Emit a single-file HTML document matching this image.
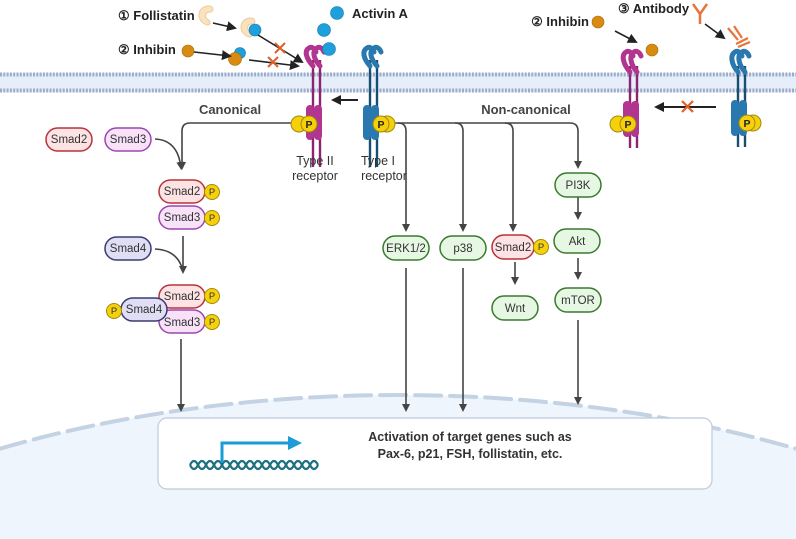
<!DOCTYPE html>
<html><head><meta charset="utf-8"><style>
html,body{margin:0;padding:0;width:796px;height:539px;overflow:hidden;background:#fff}
svg{display:block;font-family:"Liberation Sans",sans-serif;overflow:hidden}
.n{fill:#333;text-anchor:middle}
.b{font-weight:bold;fill:#222}
</style></head><body>
<svg width="796" height="539" viewBox="0 0 796 539" xmlns="http://www.w3.org/2000/svg">
<defs>
<marker id="a" markerWidth="8" markerHeight="8" refX="6" refY="4" orient="auto" markerUnits="userSpaceOnUse"><path d="M0,0 L8,4 L0,8z" fill="#444"/></marker>
<marker id="k" markerWidth="10" markerHeight="10" refX="8" refY="5" orient="auto" markerUnits="userSpaceOnUse"><path d="M0,0 L10,5 L0,10z" fill="#222"/></marker>
</defs>
<!-- nucleus -->
<path d="M0,448.7 A800,405 0 0 1 796,448.7 L796,539 L0,539 Z" fill="#eef5fd"/>
<path d="M0,448.7 A800,405 0 0 1 796,448.7" fill="none" stroke="#c3d3e3" stroke-width="4" stroke-dasharray="26,9" stroke-linecap="round"/>
<rect x="158" y="418" width="554" height="71" rx="9" fill="#fff" stroke="#bccbdb" stroke-width="1.2"/>
<text x="470" y="441" class="n b" style="font-size:12.5px;fill:#333">Activation of target genes such as</text>
<text x="470" y="458" class="n b" style="font-size:12.5px;fill:#333">Pax-6, p21, FSH, follistatin, etc.</text>
<path d="M190,465 q4,-8 8,0 t8,0 t8,0 t8,0 t8,0 t8,0 t8,0 t8,0 t8,0 t8,0 t8,0 t8,0 t8,0 t8,0 t8,0 t8,0" fill="none" stroke="#1d6f7f" stroke-width="2.2"/>
<path d="M190,465 q4,8 8,0 t8,0 t8,0 t8,0 t8,0 t8,0 t8,0 t8,0 t8,0 t8,0 t8,0 t8,0 t8,0 t8,0 t8,0 t8,0" fill="none" stroke="#1d6f7f" stroke-width="2.2"/>
<path d="M222,463 V443 H290" fill="none" stroke="#1b9bd7" stroke-width="3"/>
<path d="M288,436 L302,443 L288,450z" fill="#1b9bd7"/>
<!-- membrane -->
<rect x="0" y="73" width="796" height="19" fill="#e6eef9"/>
<line x1="0" y1="74.5" x2="796" y2="74.5" stroke="#9caccb" stroke-width="4" stroke-dasharray="2,1.3"/>
<line x1="0" y1="90.5" x2="796" y2="90.5" stroke="#9caccb" stroke-width="4" stroke-dasharray="2,1.3"/>
<!-- pathway lines -->
<g fill="none" stroke="#444" stroke-width="1.6">
<path d="M300,123 H190 Q182,123 182,131 V168" marker-end="url(#a)"/>
<path d="M390,123 H570 Q578,123 578,131 V167" marker-end="url(#a)"/>
<path d="M398,123 Q406,123 406,131 V230" marker-end="url(#a)"/>
<path d="M455,123 Q463,123 463,131 V230" marker-end="url(#a)"/>
<path d="M505,123 Q513,123 513,131 V230" marker-end="url(#a)"/>
<path d="M578,197 V218" marker-end="url(#a)"/>
<path d="M578,258 V278" marker-end="url(#a)"/>
<path d="M515,262 V283" marker-end="url(#a)"/>
<path d="M406,268 V410" marker-end="url(#a)"/>
<path d="M463,268 V410" marker-end="url(#a)"/>
<path d="M578,320 V403" marker-end="url(#a)"/>
<path d="M181,339 V410" marker-end="url(#a)"/>
<path d="M183,236 V272" marker-end="url(#a)"/>
<path d="M155,139 Q178,140 181,168" marker-end="url(#a)"/>
<path d="M155,249 Q178,250 183,271"/>
</g>
<!-- smads -->
<g stroke-width="1.5">
<rect x="46" y="128" width="46" height="23" rx="11.5" fill="#fde3e3" stroke="#b8323a"/>
<rect x="105" y="128" width="46" height="23" rx="11.5" fill="#f8e2f8" stroke="#9a47b0"/>
<rect x="159" y="180" width="46" height="23" rx="11.5" fill="#fde3e3" stroke="#b8323a"/>
<rect x="159" y="206" width="46" height="23" rx="11.5" fill="#f8e2f8" stroke="#9a47b0"/>
<rect x="105" y="237" width="46" height="23" rx="11.5" fill="#e0def5" stroke="#3b3a70"/>
<rect x="159" y="285" width="46" height="23" rx="11.5" fill="#fde3e3" stroke="#b8323a"/>
<rect x="159" y="310" width="46" height="23" rx="11.5" fill="#f8e2f8" stroke="#9a47b0"/>
<rect x="121" y="298" width="46" height="23" rx="11.5" fill="#e0def5" stroke="#3b3a70"/>
<rect x="383" y="236" width="46" height="24" rx="12" fill="#e6f7e3" stroke="#3a7a2e"/>
<rect x="440" y="236" width="46" height="24" rx="12" fill="#e6f7e3" stroke="#3a7a2e"/>
<rect x="492" y="235" width="42" height="24" rx="12" fill="#fde3e3" stroke="#b8323a"/>
<rect x="492" y="296" width="46" height="24" rx="12" fill="#e6f7e3" stroke="#3a7a2e"/>
<rect x="555" y="173" width="46" height="24" rx="12" fill="#e6f7e3" stroke="#3a7a2e"/>
<rect x="554" y="229" width="46" height="24" rx="12" fill="#e6f7e3" stroke="#3a7a2e"/>
<rect x="555" y="288" width="46" height="24" rx="12" fill="#e6f7e3" stroke="#3a7a2e"/>
</g>
<g class="n" style="font-size:11.5px">
<text x="69" y="143">Smad2</text><text x="128" y="143">Smad3</text>
<text x="182" y="195">Smad2</text><text x="182" y="221">Smad3</text>
<text x="128" y="252">Smad4</text>
<text x="182" y="300">Smad2</text><text x="182" y="326">Smad3</text>
<text x="144" y="313">Smad4</text>
<text x="406" y="252">ERK1/2</text><text x="463" y="252">p38</text>
<text x="513" y="251">Smad2</text><text x="515" y="312">Wnt</text>
<text x="578" y="189">PI3K</text><text x="577" y="245">Akt</text><text x="578" y="304">mTOR</text>
</g>
<g fill="#f6d10b" stroke="#a08a10" stroke-width="1">
<circle cx="212" cy="192" r="7.5"/><circle cx="212" cy="218" r="7.5"/>
<circle cx="212" cy="296" r="7.5"/><circle cx="212" cy="322" r="7.5"/>
<circle cx="114" cy="311" r="7.5"/><circle cx="541" cy="247" r="7.5"/>
</g>
<g class="n" style="font-size:9.5px"><text x="212" y="195">P</text><text x="212" y="221">P</text><text x="212" y="299">P</text><text x="212" y="325">P</text><text x="114" y="314">P</text><text x="541" y="250">P</text></g>
<!-- receptors left -->
<g>
<line x1="313" y1="60" x2="313" y2="167" stroke="#8c2470" stroke-width="2.4"/>
<line x1="320" y1="60" x2="320" y2="167" stroke="#8c2470" stroke-width="2.4"/>
<rect x="306" y="105" width="8" height="35" rx="4" fill="#b2358f"/>
<rect x="314" y="105" width="8" height="35" rx="4" fill="#b2358f"/>
<path d="M313,66 C306,58 304,51 309,48 C312,46 315,49 316,52" fill="none" stroke="#b2358f" stroke-width="5" stroke-linecap="round"/>
<path d="M320,66 C313,58 312,51 317,48 C320,46 323,49 324,52" fill="none" stroke="#b2358f" stroke-width="5" stroke-linecap="round"/>
</g>
<g>
<line x1="370" y1="60" x2="370" y2="167" stroke="#184e72" stroke-width="2.4"/>
<line x1="377" y1="60" x2="377" y2="167" stroke="#184e72" stroke-width="2.4"/>
<rect x="363" y="105" width="8" height="35" rx="4" fill="#2a78b0"/>
<rect x="371" y="105" width="8" height="35" rx="4" fill="#2a78b0"/>
<path d="M370,66 C363,58 362,51 367,48 C370,46 373,49 374,52" fill="none" stroke="#2a78b0" stroke-width="5" stroke-linecap="round"/>
<path d="M377,66 C370,58 369,51 374,48 C377,46 380,49 381,52" fill="none" stroke="#2a78b0" stroke-width="5" stroke-linecap="round"/>
</g>
<!-- receptors right -->
<g>
<line x1="630" y1="66" x2="630" y2="148" stroke="#8c2470" stroke-width="2.4"/>
<line x1="637" y1="66" x2="637" y2="148" stroke="#8c2470" stroke-width="2.4"/>
<rect x="623" y="101" width="8" height="36" rx="4" fill="#b2358f"/>
<rect x="631" y="101" width="8" height="36" rx="4" fill="#b2358f"/>
<path d="M630,72 C623,64 621,55 626,52 C629,50 632,53 633,56" fill="none" stroke="#b2358f" stroke-width="5" stroke-linecap="round"/>
<path d="M637,72 C630,64 629,55 634,52 C637,50 640,53 641,56" fill="none" stroke="#b2358f" stroke-width="5" stroke-linecap="round"/>
</g>
<g>
<line x1="738" y1="66" x2="738" y2="147" stroke="#184e72" stroke-width="2.4"/>
<line x1="745" y1="66" x2="745" y2="147" stroke="#184e72" stroke-width="2.4"/>
<rect x="731" y="100" width="8" height="36" rx="4" fill="#2a78b0"/>
<rect x="739" y="100" width="8" height="36" rx="4" fill="#2a78b0"/>
<path d="M738,72 C731,64 730,55 735,52 C738,50 741,53 742,56" fill="none" stroke="#2a78b0" stroke-width="5" stroke-linecap="round"/>
<path d="M745,72 C738,64 737,55 742,52 C745,50 748,53 749,56" fill="none" stroke="#2a78b0" stroke-width="5" stroke-linecap="round"/>
</g>
<g fill="#f6d10b" stroke="#a08a10" stroke-width="1">
<circle cx="299" cy="124" r="8"/><circle cx="309" cy="124" r="8"/>
<circle cx="387" cy="124" r="8"/><circle cx="381" cy="124" r="8"/>
<circle cx="618" cy="124" r="8"/><circle cx="628" cy="124" r="8"/>
<circle cx="753" cy="123" r="8"/><circle cx="747" cy="123" r="8"/>
</g>
<g class="n b" style="font-size:10.5px"><text x="309" y="128">P</text><text x="381" y="128">P</text><text x="628" y="128">P</text><text x="747" y="127">P</text></g>
<line x1="358" y1="100" x2="333" y2="100" stroke="#222" stroke-width="2" marker-end="url(#k)"/>
<line x1="716" y1="107" x2="656" y2="107" stroke="#222" stroke-width="2" marker-end="url(#k)"/>
<path d="M682,101 l11,11 M693,101 l-11,11" stroke="#e0602a" stroke-width="2.2"/>
<text x="230" y="114" class="n b" style="font-size:13px;fill:#444">Canonical</text>
<text x="526" y="114" class="n b" style="font-size:13px;fill:#444">Non-canonical</text>
<g class="n" style="font-size:12.5px"><text x="315" y="165">Type II</text><text x="315" y="180">receptor</text><text x="378" y="165">Type I</text><text x="384" y="180">receptor</text></g>
<!-- ligands -->
<path d="M209,6 C197,6 195,21 207,25 C211,25 211,21 207,19 C204,16 206,12 210,12 C214,12 214,6 209,6z" fill="#fbe2bd" stroke="#e8cca0" stroke-width="1"/>
<path d="M251,18 C239,18 237,33 249,37 C253,37 253,33 249,31 C246,28 248,24 252,24 C256,24 256,18 251,18z" fill="#fbe2bd" stroke="#e8cca0" stroke-width="1"/>
<g fill="#1ea0dc" stroke="#1878a8" stroke-width=".6">
<circle cx="255" cy="30" r="6"/><circle cx="337" cy="13" r="6.5"/><circle cx="324" cy="30" r="6.5"/><circle cx="329" cy="49" r="6.5"/><circle cx="240" cy="53" r="5.5"/>
</g>
<g fill="#d98a10" stroke="#a86a08" stroke-width=".6">
<circle cx="188" cy="51" r="6"/><circle cx="235" cy="59" r="6.5"/><circle cx="598" cy="22" r="6"/><circle cx="652" cy="50" r="6"/>
</g>
<g stroke="#222" stroke-width="1.6" fill="none">
<line x1="213" y1="23" x2="235" y2="28" marker-end="url(#k)"/>
<line x1="258" y1="35" x2="302" y2="62" marker-end="url(#k)"/>
<line x1="194" y1="52" x2="230" y2="56" marker-end="url(#k)"/>
<line x1="249" y1="60" x2="298" y2="66" marker-end="url(#k)"/>
<line x1="615" y1="31" x2="636" y2="42" marker-end="url(#k)"/>
<line x1="705" y1="24" x2="724" y2="38" marker-end="url(#k)"/>
</g>
<path d="M275,43 l10,10 M285,43 l-10,10 M268,57 l10,10 M278,57 l-10,10" stroke="#e0602a" stroke-width="2"/>
<path d="M693,4 L700,14 L707,4 M700,14 V24" fill="none" stroke="#e8743a" stroke-width="2.5"/>
<path d="M728,28 L738,40 M734,26 L742,38 M736,44 L748,38 M738,47 L750,42" fill="none" stroke="#e8743a" stroke-width="2.2"/>
<g class="b" style="font-size:13px"><text x="118" y="20">① Follistatin</text><text x="118" y="54">② Inhibin</text><text x="352" y="18">Activin A</text><text x="589" y="26" text-anchor="end">② Inhibin</text><text x="618" y="13">③ Antibody</text></g>
</svg>
</body></html>
